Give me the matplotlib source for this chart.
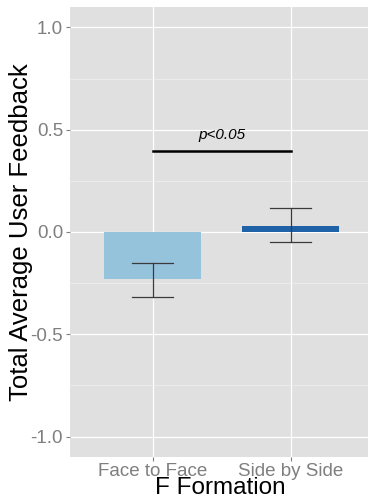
import matplotlib
matplotlib.use("Agg")
import matplotlib.pyplot as plt
import numpy as np

plt.rcParams['font.family'] = ['Liberation Sans', 'DejaVu Sans']

categories = ["Face to Face", "Side by Side"]
means = [-0.232, 0.029]
err_low = [-0.317, -0.049]
err_high = [-0.150, 0.117]
colors = ["#96c3dc", "#1f62a8"]
sig_y = 0.395
sig_text = "p<0.05"
yticks = [-1.0, -0.5, 0.0, 0.5, 1.0]
yticklabels = ["-1.0", "-0.5", "0.0", "0.5", "1.0"]

fig = plt.figure(figsize=(3.68, 5.01), dpi=100)
ax = fig.add_axes([70/368, 1 - 457/501, 298/368, 450/501])
ax.set_facecolor("#e0e0e0")

x = np.arange(1, len(categories) + 1)
ax.bar(x, means, width=0.7, color=colors, zorder=3)
for xi, lo, hi in zip(x, err_low, err_high):
    ax.plot([xi, xi], [lo, hi], color="#3a3a3a", lw=0.9, zorder=4)
    ax.plot([xi - 0.15, xi + 0.15], [lo, lo], color="#3a3a3a", lw=0.9, zorder=4)
    ax.plot([xi - 0.15, xi + 0.15], [hi, hi], color="#3a3a3a", lw=0.9, zorder=4)

ax.plot([x[0], x[1]], [sig_y, sig_y], color="black", lw=1.8, zorder=4)
ax.text((x[0] + x[1]) / 2, sig_y + 0.045, sig_text, style="italic",
        ha="center", va="bottom", fontsize=11, color="black")

ax.set_xlim(0.4, 2.56)
ax.set_ylim(-1.1, 1.1)
ax.set_yticks(yticks)
ax.set_yticklabels(yticklabels)
ax.set_yticks([-0.75, -0.25, 0.25, 0.75], minor=True)
ax.set_xticks(x)
ax.set_xticklabels(categories)
ax.grid(which="major", color="white", lw=0.9, zorder=0)
ax.grid(which="minor", axis="y", color="#f0f0f0", lw=0.5, zorder=0)
ax.set_axisbelow(True)
for s in ax.spines.values():
    s.set_visible(False)
ax.tick_params(axis="both", which="major", colors="#7f7f7f", labelsize=13.5,
               length=3, width=0.8, pad=2)
ax.tick_params(axis="y", which="minor", length=0)
ax.tick_params(axis="x", pad=1)
ax.set_ylabel("Total Average User Feedback", fontsize=18.5, color="black")
ax.yaxis.set_label_coords(-0.124, 0.5)
ax.set_xlabel("F Formation", fontsize=17.5, color="black")
ax.xaxis.set_label_coords(0.505, -0.044)

fig.savefig("out.png", dpi=100)
